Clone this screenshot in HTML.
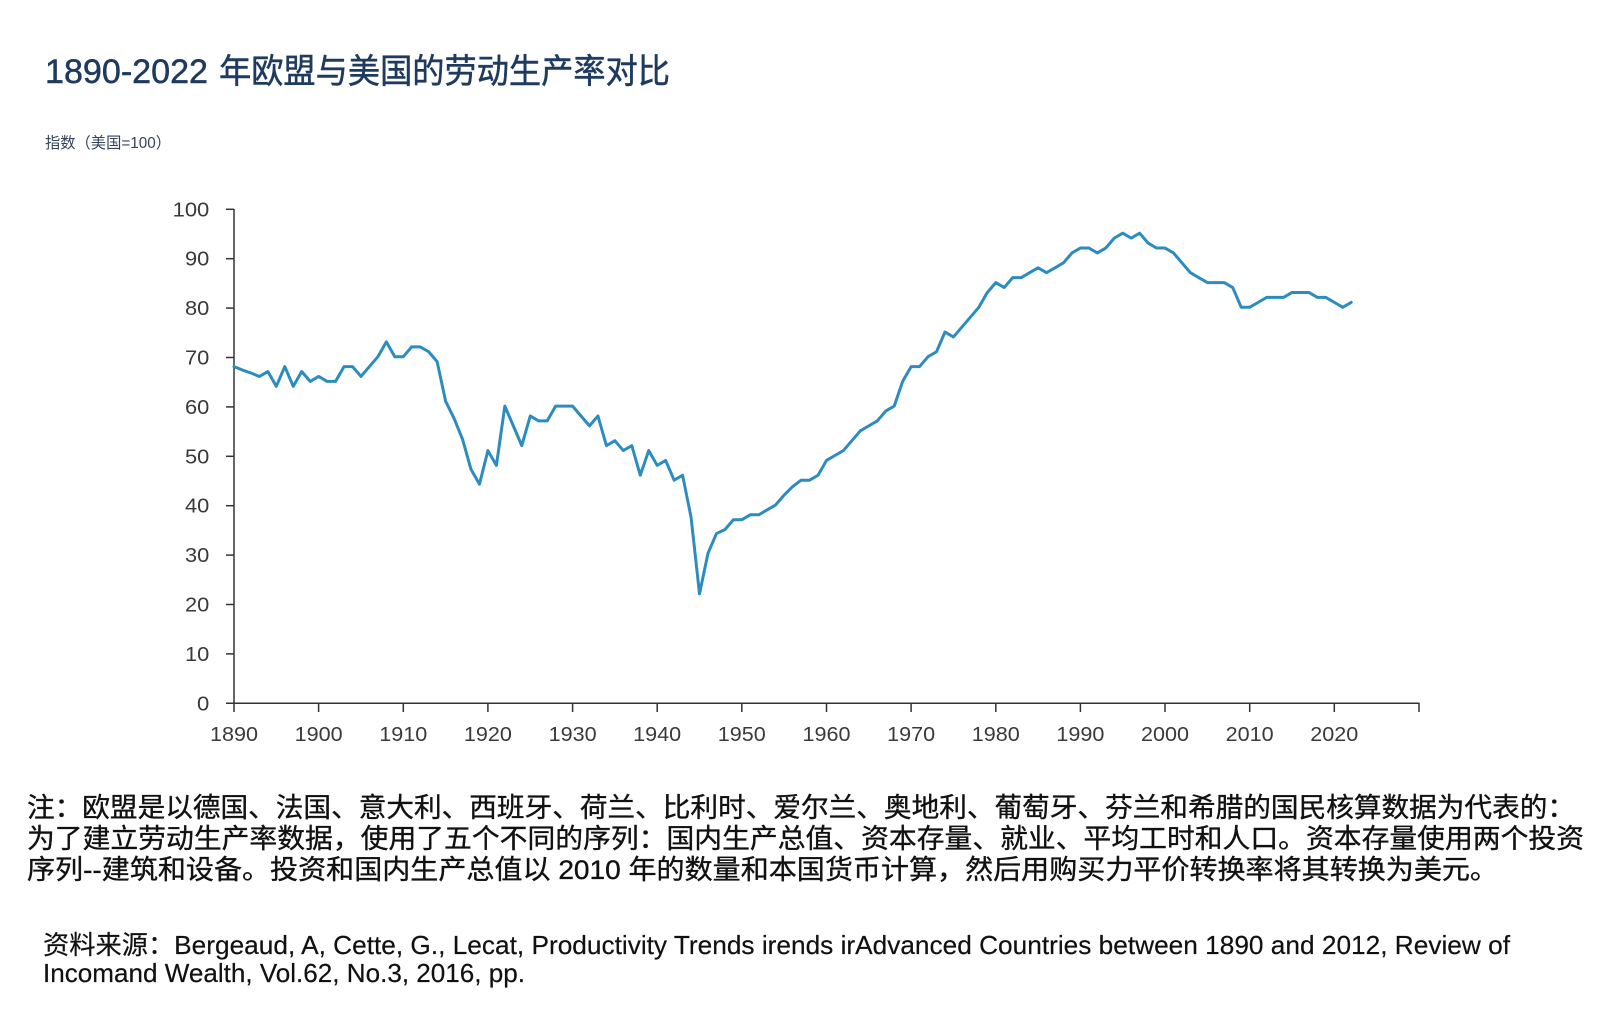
<!DOCTYPE html>
<html>
<head>
<meta charset="utf-8">
<style>
  html,body{margin:0;padding:0;background:#fff;}
  body{width:1598px;height:1022px;overflow:hidden;}
  svg{display:block;}
  .ax{font-family:"Liberation Sans","Noto Sans CJK SC",sans-serif;font-size:20px;fill:#3a3a3a;}
  .cn{font-family:"Liberation Sans","Noto Sans CJK SC",sans-serif;}
</style>
</head>
<body>
<svg width="1598" height="1022" viewBox="0 0 1598 1022" xmlns="http://www.w3.org/2000/svg">
  <rect x="0" y="0" width="1598" height="1022" fill="#ffffff"/>

  <!-- Title -->
  <g class="cn" font-size="34" fill="#1e3a5e" stroke="#1e3a5e" stroke-width="0.5">
    <text x="45" y="83" textLength="163" lengthAdjust="spacingAndGlyphs">1890-2022</text>
    <text x="219" y="83" textLength="451" lengthAdjust="spacingAndGlyphs">年欧盟与美国的劳动生产率对比</text>
  </g>

  <!-- Subtitle -->
  <text class="cn" x="45" y="148" font-size="15.5" fill="#34445a" textLength="126" lengthAdjust="spacingAndGlyphs">指数（美国=100）</text>

  <!-- Axes -->
  <g stroke="#333" stroke-width="1.5" fill="none">
    <line x1="234" y1="209" x2="234" y2="703.3"/>
    <line x1="226" y1="703.3" x2="1419.5" y2="703.3"/>
    <line x1="226" y1="653.9" x2="234" y2="653.9"/>
    <line x1="226" y1="604.5" x2="234" y2="604.5"/>
    <line x1="226" y1="555.1" x2="234" y2="555.1"/>
    <line x1="226" y1="505.7" x2="234" y2="505.7"/>
    <line x1="226" y1="456.3" x2="234" y2="456.3"/>
    <line x1="226" y1="406.9" x2="234" y2="406.9"/>
    <line x1="226" y1="357.5" x2="234" y2="357.5"/>
    <line x1="226" y1="308.1" x2="234" y2="308.1"/>
    <line x1="226" y1="258.7" x2="234" y2="258.7"/>
    <line x1="226" y1="209.3" x2="234" y2="209.3"/>
    <line x1="234" y1="703" x2="234" y2="712"/>
    <line x1="318.6" y1="703" x2="318.6" y2="712"/>
    <line x1="403.3" y1="703" x2="403.3" y2="712"/>
    <line x1="487.9" y1="703" x2="487.9" y2="712"/>
    <line x1="572.6" y1="703" x2="572.6" y2="712"/>
    <line x1="657.2" y1="703" x2="657.2" y2="712"/>
    <line x1="741.8" y1="703" x2="741.8" y2="712"/>
    <line x1="826.5" y1="703" x2="826.5" y2="712"/>
    <line x1="911.1" y1="703" x2="911.1" y2="712"/>
    <line x1="995.8" y1="703" x2="995.8" y2="712"/>
    <line x1="1080.4" y1="703" x2="1080.4" y2="712"/>
    <line x1="1165" y1="703" x2="1165" y2="712"/>
    <line x1="1249.7" y1="703" x2="1249.7" y2="712"/>
    <line x1="1334.3" y1="703" x2="1334.3" y2="712"/>
    <line x1="1419" y1="703" x2="1419" y2="712"/>
  </g>

  <!-- Y labels -->
  <g class="ax">
    <text x="197" y="710.3" textLength="12.3" lengthAdjust="spacingAndGlyphs">0</text>
    <text x="185" y="660.9" textLength="24.3" lengthAdjust="spacingAndGlyphs">10</text>
    <text x="185" y="611.5" textLength="24.3" lengthAdjust="spacingAndGlyphs">20</text>
    <text x="185" y="562.1" textLength="24.3" lengthAdjust="spacingAndGlyphs">30</text>
    <text x="185" y="512.7" textLength="24.3" lengthAdjust="spacingAndGlyphs">40</text>
    <text x="185" y="463.3" textLength="24.3" lengthAdjust="spacingAndGlyphs">50</text>
    <text x="185" y="413.9" textLength="24.3" lengthAdjust="spacingAndGlyphs">60</text>
    <text x="185" y="364.5" textLength="24.3" lengthAdjust="spacingAndGlyphs">70</text>
    <text x="185" y="315.1" textLength="24.3" lengthAdjust="spacingAndGlyphs">80</text>
    <text x="185" y="265.7" textLength="24.3" lengthAdjust="spacingAndGlyphs">90</text>
    <text x="172.6" y="216.3" textLength="36.7" lengthAdjust="spacingAndGlyphs">100</text>
  </g>

  <!-- X labels -->
  <g class="ax">
    <text x="210" y="741" textLength="48" lengthAdjust="spacingAndGlyphs">1890</text>
    <text x="294.6" y="741" textLength="48" lengthAdjust="spacingAndGlyphs">1900</text>
    <text x="379.3" y="741" textLength="48" lengthAdjust="spacingAndGlyphs">1910</text>
    <text x="463.9" y="741" textLength="48" lengthAdjust="spacingAndGlyphs">1920</text>
    <text x="548.6" y="741" textLength="48" lengthAdjust="spacingAndGlyphs">1930</text>
    <text x="633.2" y="741" textLength="48" lengthAdjust="spacingAndGlyphs">1940</text>
    <text x="717.8" y="741" textLength="48" lengthAdjust="spacingAndGlyphs">1950</text>
    <text x="802.5" y="741" textLength="48" lengthAdjust="spacingAndGlyphs">1960</text>
    <text x="887.1" y="741" textLength="48" lengthAdjust="spacingAndGlyphs">1970</text>
    <text x="971.8" y="741" textLength="48" lengthAdjust="spacingAndGlyphs">1980</text>
    <text x="1056.4" y="741" textLength="48" lengthAdjust="spacingAndGlyphs">1990</text>
    <text x="1141" y="741" textLength="48" lengthAdjust="spacingAndGlyphs">2000</text>
    <text x="1225.7" y="741" textLength="48" lengthAdjust="spacingAndGlyphs">2010</text>
    <text x="1310.3" y="741" textLength="48" lengthAdjust="spacingAndGlyphs">2020</text>
  </g>

  <!-- Data line -->
  <polyline transform="matrix(8.464 0 0 -4.94 234 702.5)" fill="none" stroke="#2d8cbf" stroke-width="3" stroke-linejoin="round" stroke-linecap="round" vector-effect="non-scaling-stroke"
    points="0,68 1,67.3 2,66.7 3,66 4,67 5,64 6,68 7,64 8,67 9,65 10,66 11,65 12,65 13,68 14,68 15,66 16,68 17,70 18,73 19,70 20,70 21,72 22,72 23,71 24,69 25,61 26,57.5 27,53.3 28,47.2 29,44.2 30,51 31,48 32,60 33,56 34,52 35,58 36,57 37,57 38,60 39,60 40,60 41,58 42,56 43,58 44,52 45,53 46,51 47,52 48,46 49,51 50,48 51,49 52,45 53,46 54,37.5 55,22 56,30.2 57,34.2 58,35 59,37 60,37 61,38 62,38 63,39 64,40 65,42 66,43.7 67,45 68,45 69,46 70,49 71,50 72,51 73,53 74,55 75,56 76,57 77,59 78,60 79,65 80,68 81,68 82,70 83,71 84,75 85,74 86,76 87,78 88,80 89,83 90,85 91,84 92,86 93,86 94,87 95,88 96,87 97,88 98,89 99,91 100,92 101,92 102,91 103,92 104,94 105,95 106,94 107,95 108,93 109,92 110,92 111,91 112,89 113,87 114,86 115,85 116,85 117,85 118,84 119,80 120,80 121,81 122,82 123,82 124,82 125,83 126,83 127,83 128,82 129,82 130,81 131,80 132,81"/>

  <!-- Notes -->
  <g class="cn" font-size="27" fill="#111" stroke="#111" stroke-width="0.35">
    <text x="27" y="817" textLength="1548" lengthAdjust="spacingAndGlyphs">注：欧盟是以德国、法国、意大利、西班牙、荷兰、比利时、爱尔兰、奥地利、葡萄牙、芬兰和希腊的国民核算数据为代表的：</text>
    <text x="27" y="848" textLength="1557" lengthAdjust="spacingAndGlyphs">为了建立劳动生产率数据，使用了五个不同的序列：国内生产总值、资本存量、就业、平均工时和人口。资本存量使用两个投资</text>
    <text x="27" y="879" textLength="1471" lengthAdjust="spacingAndGlyphs">序列--建筑和设备。投资和国内生产总值以 2010 年的数量和本国货币计算，然后用购买力平价转换率将其转换为美元。</text>
  </g>

  <!-- Source -->
  <g class="cn" font-size="26" fill="#111" stroke="#111" stroke-width="0.2">
    <text x="43" y="954" textLength="1467" lengthAdjust="spacingAndGlyphs">资料来源：Bergeaud, A, Cette, G., Lecat, Productivity Trends irends irAdvanced Countries between 1890 and 2012, Review of</text>
    <text x="43" y="982" textLength="482" lengthAdjust="spacingAndGlyphs">Incomand Wealth, Vol.62, No.3, 2016, pp.</text>
  </g>
</svg>
</body>
</html>
